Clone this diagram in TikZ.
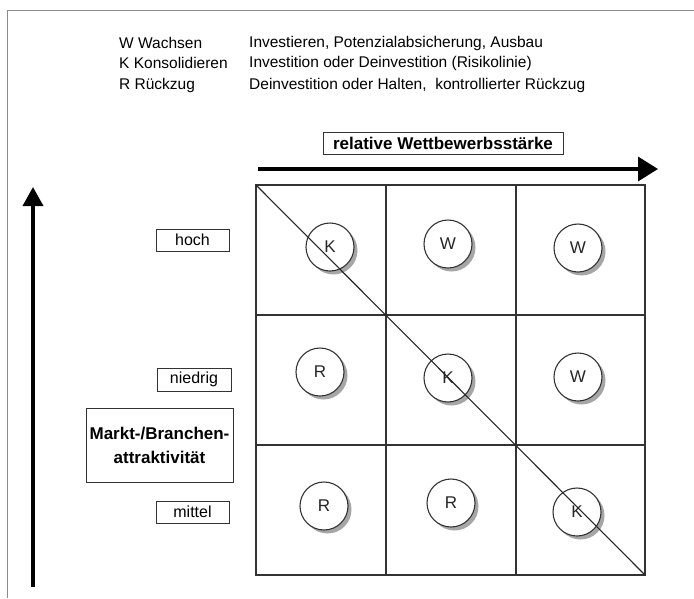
\documentclass[tikz,border=0pt]{standalone}
\usepackage{fontspec}
\setmainfont{Liberation Sans}
\usetikzlibrary{arrows.meta}
\begin{document}
\begin{tikzpicture}[x=1pt,y=-1pt,
  lbl/.style={draw=black!80,line width=0.9pt,inner sep=0pt,font=\fontsize{16}{18}\selectfont},
  bub/.style={circle,draw=black!80,line width=1.1pt,fill=white,minimum size=48pt,inner sep=0pt,font=\fontsize{17}{19}\selectfont,text=black!85},
  shad/.style={circle,fill=black!35,minimum size=48pt,inner sep=0pt},
  gridline/.style={draw=black!80,line width=1.1pt},
  leg/.style={anchor=west,inner sep=0pt,font=\fontsize{15.5}{17}\selectfont}]
\useasboundingbox (0,0) rectangle (694,598);
% frame
\draw[black!45,line width=1pt] (7.5,598) -- (7.5,10.5) -- (694,10.5);
% legend
\node[leg] (l1a) at (119,43) {W Wachsen};
\node[leg] (l2a) at (119,63) {K Konsolidieren};
\node[leg] (l3a) at (119,85) {R Rückzug};
\node[leg] (l1b) at (249,43) {Investieren, Potenzialabsicherung, Ausbau};
\node[leg] (l2b) at (249,63) {Investition oder Deinvestition (Risikolinie)};
\node[leg] (l3b) at (249,85) {Deinvestition oder Halten,\ \ kontrollierter Rückzug};
% axis arrows
\coordinate (hx0) at (258,169);
\coordinate (hx1) at (658,169);
\draw[line width=3.6pt,-{Triangle[length=20pt,width=24pt]}] (hx0) -- (hx1);
\coordinate (vy0) at (33,587);
\coordinate (vy1) at (33,187);
\draw[line width=3.6pt,-{Triangle[length=19pt,width=20pt]}] (vy0) -- (vy1);
% labels
\node[lbl,minimum width=240pt,minimum height=22pt,font=\bfseries\fontsize{17}{19}\selectfont] (rw) at (443,143) {relative Wettbewerbsstärke};
\node[lbl,minimum width=73pt,minimum height=22pt] (hoch) at (192.5,240) {hoch};
\node[lbl,minimum width=74pt,minimum height=23pt] (niedrig) at (194,379.5) {niedrig};
\node[lbl,minimum width=73pt,minimum height=22pt] (mittel) at (192.5,512) {mittel};
\node[lbl,minimum width=147pt,minimum height=74pt,align=center,font=\bfseries\fontsize{17}{24}\selectfont] (mba) at (159.5,445) {Markt-/Branchen-\\attraktivität};
% grid
\coordinate (g00) at (256,185);
\coordinate (g11) at (645,575);
\draw[gridline] (256,185) rectangle (645,575);
\draw[gridline] (386,185) -- (386,575);
\draw[gridline] (516,185) -- (516,575);
\draw[gridline] (256,315) -- (645,315);
\draw[gridline] (256,445) -- (645,445);
% circles with shadows
\foreach \n/\x/\y/\t in {c1/330/247/K, c2/448/244/W, c3/578/248/W, c4/320/372/R, c5/448/378/K, c6/578/377/W, c7/324/506/R, c8/451/503/R, c9/577/512/K}{
  \node[shad] at (\x+3.5,\y+3.5) {};
  \node[bub] (\n) at (\x,\y) {\t};
}
% risk line
\draw[black!85,line width=1.1pt] (g00) -- (g11);
\end{tikzpicture}
\end{document}
